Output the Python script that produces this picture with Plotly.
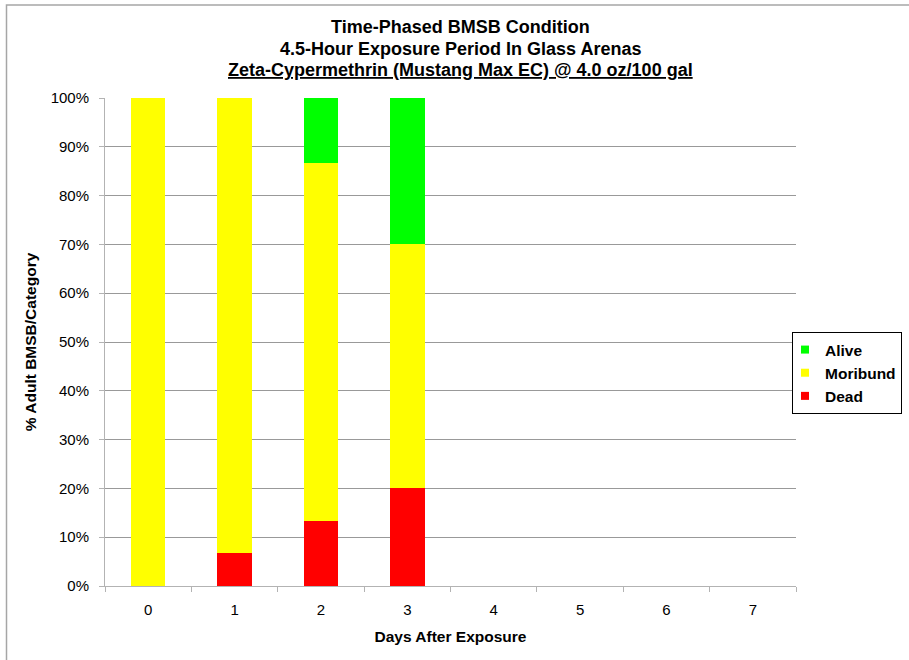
import plotly.graph_objects as go

# Days after exposure and the share of adult BMSB in each condition (%)
days = ["0", "1", "2", "3", "4", "5", "6", "7"]
dead = [0, 6.67, 13.33, 20, None, None, None, None]
moribund = [100, 93.33, 73.33, 50, None, None, None, None]
alive = [0, 0, 13.33, 30, None, None, None, None]

y_ticks = [0, 10, 20, 30, 40, 50, 60, 70, 80, 90, 100]
y_tick_text = [f"{v}%" for v in y_ticks]

title_lines = [
    "Time-Phased BMSB Condition",
    "4.5-Hour Exposure Period In Glass Arenas",
    "<u>Zeta-Cypermethrin (Mustang Max EC) @ 4.0 oz/100 gal</u>",
]

FONT = "Arial, Liberation Sans, sans-serif"
series = [("Dead", dead, "#FF0000"), ("Moribund", moribund, "#FFFF00"), ("Alive", alive, "#00FF00")]

fig = go.Figure()
for name, vals, color in series:
    fig.add_trace(go.Bar(
        x=days, y=vals, name=name, width=0.40,
        marker=dict(color=color, line=dict(width=0)),
        showlegend=False,
    ))
# small square legend keys
for name, vals, color in series:
    fig.add_trace(go.Scatter(
        x=[None], y=[None], mode="markers", name=name,
        marker=dict(symbol="square", size=8, color=color),
    ))

# plot-area geometry in pixels (for paper-coordinate placement)
W, H = 909, 660
L, R, T, B = 105, 113, 98, 74
pw, ph = W - L - R, H - T - B


def px_x(p):
    return (p - L) / pw


def px_y(p):
    return (H - B - p) / ph


fig.update_layout(
    width=W, height=H,
    margin=dict(l=L, r=R, t=T, b=B, autoexpand=False),
    paper_bgcolor="white", plot_bgcolor="white",
    barmode="stack", bargap=0.6,
    font=dict(family=FONT, size=15, color="black"),
    xaxis=dict(
        type="category", categoryorder="array", categoryarray=days,
        showline=True, linecolor="#b3b3b3", linewidth=1,
        ticks="outside", tickson="boundaries", ticklen=5, tickcolor="#b3b3b3",
        ticklabelstandoff=10, showgrid=False, zeroline=False,
        title=dict(text="Days After Exposure", font=dict(size=15.5, weight="bold"), standoff=14),
    ),
    yaxis=dict(
        range=[0, 100], tickvals=y_ticks, ticktext=y_tick_text,
        showline=True, linecolor="#b3b3b3", linewidth=1,
        ticks="outside", ticklen=5, tickcolor="#b3b3b3", ticklabelstandoff=7,
        showgrid=True, gridcolor="#999999", gridwidth=1, zeroline=False,
        title=dict(text="% Adult BMSB/Category", font=dict(size=15.5, weight="bold"), standoff=10),
    ),
    legend=dict(
        x=px_x(792), y=px_y(332), xanchor="left", yanchor="top",
        bordercolor="#000000", borderwidth=1, bgcolor="white",
        traceorder="reversed", font=dict(size=15.5, weight="bold"),
        itemwidth=30, indentation=-8,
    ),
    showlegend=True,
)

for line, yc in zip(title_lines, [27, 48.5, 70]):
    fig.add_annotation(
        xref="paper", yref="paper", x=px_x(460), y=px_y(yc),
        xanchor="center", yanchor="middle", showarrow=False,
        text=line, font=dict(size=18, family=FONT, color="black", weight="bold"),
    )

# chart-area border
fig.add_shape(
    type="rect", xref="paper", yref="paper",
    x0=px_x(6.5), x1=px_x(920), y0=px_y(670), y1=px_y(5),
    line=dict(color="#a6a6a6", width=1.5), fillcolor="rgba(0,0,0,0)", layer="below",
)

fig.write_html("out.html")
